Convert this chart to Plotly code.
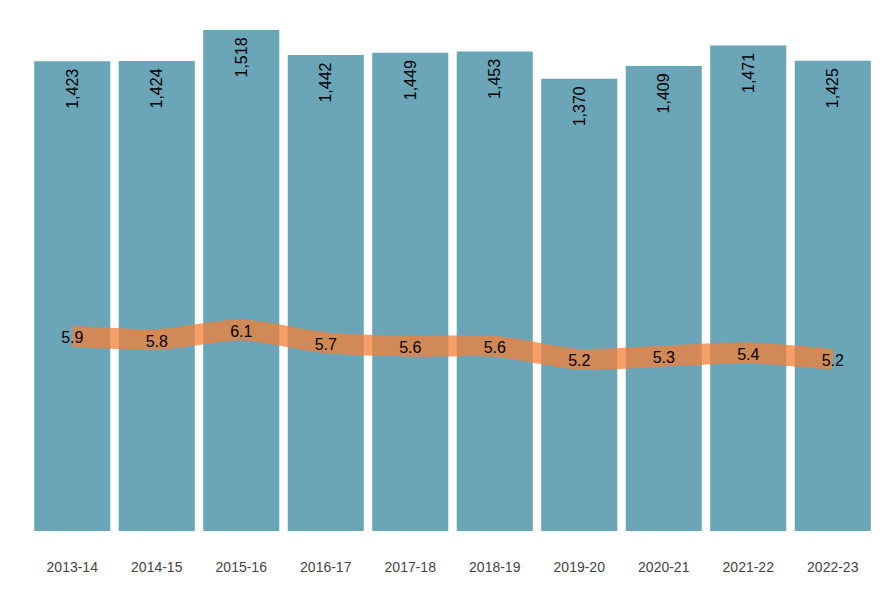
import plotly.graph_objects as go

years = ["2013-14", "2014-15", "2015-16", "2016-17", "2017-18",
         "2018-19", "2019-20", "2020-21", "2021-22", "2022-23"]
counts = [1423, 1424, 1518, 1442, 1449, 1453, 1370, 1409, 1471, 1425]
rates = [5.9, 5.8, 6.1, 5.7, 5.6, 5.6, 5.2, 5.3, 5.4, 5.2]

fig = go.Figure()
fig.add_trace(go.Bar(
    x=years, y=counts,
    marker=dict(color="#6aa5b8", line=dict(width=0)),
    texttemplate="%{y:,}\u00a0", textposition="inside", insidetextanchor="end",
    textangle=-90, textfont=dict(color="black", size=16, family="Liberation Sans, Arial"),
    constraintext="none", cliponaxis=False, showlegend=False, hoverinfo="skip",
))
fig.add_trace(go.Scatter(
    x=years, y=rates, yaxis="y2", mode="lines",
    line=dict(color="rgb(244,128,56)", width=21, shape="spline", smoothing=0.6),
    opacity=0.75,
    showlegend=False, hoverinfo="skip",
))
fig.add_trace(go.Scatter(
    x=years, y=rates, yaxis="y3", mode="text",
    text=[f"{v:.1f}" for v in rates], textposition="middle center",
    textfont=dict(color="black", size=16, family="Liberation Sans, Arial"),
    showlegend=False, hoverinfo="skip",
))
fig.update_layout(
    width=890, height=600,
    margin=dict(l=30, r=15, t=30, b=69),
    paper_bgcolor="white", plot_bgcolor="white",
    bargap=0.1,
    font=dict(family="Liberation Sans, Arial", color="#444"),
    xaxis=dict(showgrid=False, zeroline=False, showline=False,
               ticks="", ticklabelstandoff=26,
               tickfont=dict(size=14, color="#444")),
    yaxis=dict(range=[0, 1518], visible=False, showgrid=False),
    yaxis2=dict(range=[0, 15.18], overlaying="y", visible=False, showgrid=False),
    yaxis3=dict(range=[0.09, 15.27], overlaying="y", visible=False, showgrid=False),
)
fig.write_html("out.html")
